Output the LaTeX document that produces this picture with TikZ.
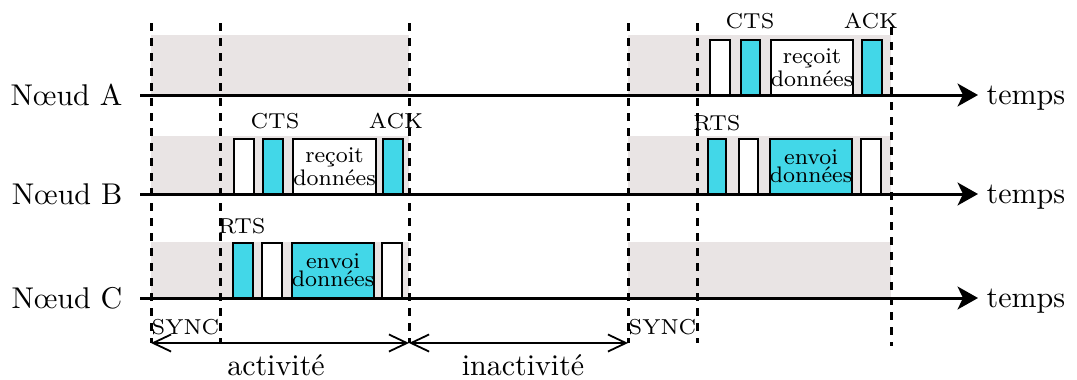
\documentclass[tikz,border=0pt]{standalone}
\usetikzlibrary{arrows.meta}
\definecolor{bandgrey}{RGB}{233,228,228}
\definecolor{slotcyan}{RGB}{66,215,232}
\newcommand{\pxunit}{0.33333pt}
\begin{document}
\begin{tikzpicture}[x=0.33333pt,y=-0.33333pt,
  slotw/.style={draw, line width=0.65pt, fill=white, inner sep=0pt, minimum height=55*\pxunit},
  slotc/.style={slotw, fill=slotcyan},
  axisline/.style={line width=1pt, -{Stealth[length=6.8pt,width=7.6pt,inset=1.8pt]}},
  sepline/.style={line width=1pt, dash pattern=on 2.6pt off 2.4pt},
  spanline/.style={line width=0.6pt, {Straight Barb[length=6pt,width=5.7pt]}-{Straight Barb[length=6pt,width=5.7pt]}},
  lbl/.style={font=\fontsize{7.2}{8}\selectfont, inner sep=0pt, anchor=base},
  datatext/.style={font=\fontsize{7.5}{6}\selectfont, align=center},
  nodename/.style={font=\fontsize{10}{12}\selectfont, anchor=base east, inner sep=0pt},
  tlbl/.style={font=\fontsize{10}{12}\selectfont, anchor=base west, inner sep=0pt},
  phase/.style={font=\fontsize{10}{12}\selectfont, anchor=base, inner sep=0pt}]
\useasboundingbox (0,0) rectangle (1077,379);

% grey bands
\fill[bandgrey] (151,35) rectangle (409,95);
\fill[bandgrey] (628,35) rectangle (891,95);
\fill[bandgrey] (151,136) rectangle (409,194);
\fill[bandgrey] (628,136) rectangle (891,194);
\fill[bandgrey] (151,242) rectangle (409,298);
\fill[bandgrey] (628,242) rectangle (891,298);

% row A slots
\node[slotw, minimum width=20*\pxunit] (a1) at (720,67.5) {};
\node[slotc, minimum width=19*\pxunit] (a2) at (750.5,67.5) {};
\node[slotw, minimum width=82*\pxunit, datatext] (a3) at (812,67.5) {reçoit\\données};
\node[slotc, minimum width=20*\pxunit] (a4) at (872,67.5) {};
\node[lbl] (la2) at (750,28) {CTS};
\node[lbl] (la4) at (871,28) {ACK};

% row B slots (left)
\node[slotw, minimum width=20*\pxunit] (b1) at (244,166.5) {};
\node[slotc, minimum width=20*\pxunit] (b2) at (273,166.5) {};
\node[slotw, minimum width=81*\pxunit, datatext] (b3) at (334.5,166.5) {reçoit\\données};
\node[slotc, minimum width=20*\pxunit] (b4) at (393,166.5) {};
\node[lbl] (lb2) at (275,128) {CTS};
\node[lbl] (lb4) at (396,128) {ACK};

% row B slots (right)
\node[slotc, minimum width=18*\pxunit] (b5) at (717,166.5) {};
\node[slotw, minimum width=19*\pxunit] (b6) at (748.5,166.5) {};
\node[slotc, minimum width=82*\pxunit, datatext] (b7) at (811,166.5) {envoi\\données};
\node[slotw, minimum width=20*\pxunit] (b8) at (871,166.5) {};
\node[lbl] (lb5) at (717,130) {RTS};

% row C slots
\node[slotc, minimum width=20*\pxunit] (c1) at (243,270.5) {};
\node[slotw, minimum width=20*\pxunit] (c2) at (272,270.5) {};
\node[slotc, minimum width=80*\pxunit, datatext] (c3) at (333,270.5) {envoi\\données};
\node[slotw, minimum width=20*\pxunit] (c4) at (392,270.5) {};
\node[lbl] (lc1) at (242,233) {RTS};

% node names and time axes
\node[nodename] (nA) at (123,105) {Nœud A};
\node[nodename] (nB) at (123,204) {Nœud B};
\node[nodename] (nC) at (123,308) {Nœud C};
\coordinate (sA) at (140,95);  \coordinate (eA) at (978,95);
\coordinate (sB) at (140,194); \coordinate (eB) at (978,194);
\coordinate (sC) at (140,298); \coordinate (eC) at (978,298);
\draw[axisline] (sA) -- (eA);
\draw[axisline] (sB) -- (eB);
\draw[axisline] (sC) -- (eC);
\node[tlbl] (tA) at (986,104) {temps};
\node[tlbl] (tB) at (986,203) {temps};
\node[tlbl] (tC) at (986,307) {temps};

% dashed separators
\coordinate (d1t) at (151,23);  \coordinate (d1b) at (151,343);
\coordinate (d2t) at (220,23);  \coordinate (d2b) at (220,343);
\coordinate (d3t) at (409,23);  \coordinate (d3b) at (409,343);
\coordinate (d4t) at (628,23);  \coordinate (d4b) at (628,343);
\coordinate (d5t) at (697,23);  \coordinate (d5b) at (697,343);
\coordinate (d6t) at (891,27);  \coordinate (d6b) at (891,346);
\draw[sepline] (d1t) -- (d1b);
\draw[sepline] (d2t) -- (d2b);
\draw[sepline] (d3t) -- (d3b);
\draw[sepline] (d4t) -- (d4b);
\draw[sepline] (d5t) -- (d5b);
\draw[sepline] (d6t) -- (d6b);

% SYNC labels
\node[lbl] (s1) at (185.5,334) {SYNC};
\node[lbl] (s2) at (662.5,334) {SYNC};

% activity spans
\draw[spanline] (d1b) -- (d3b);
\draw[spanline] (d3b) -- (d4b);
\node[phase] (act) at (276,375) {activité};
\node[phase] (inact) at (523,375) {inactivité};
\end{tikzpicture}
\end{document}
